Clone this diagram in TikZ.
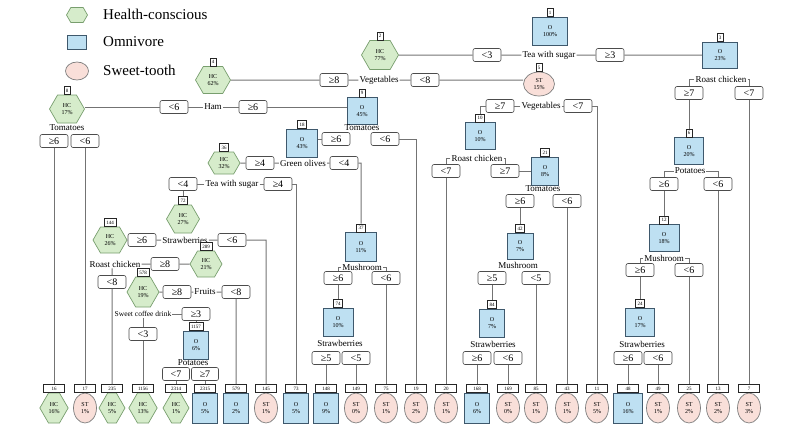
\documentclass[tikz,border=0pt]{standalone}
\usepackage{fontspec}
\setmainfont{Liberation Serif}
\usetikzlibrary{positioning, shapes.geometric, shapes.symbols}

\definecolor{hcfill}{RGB}{214,236,203}
\definecolor{hcline}{RGB}{120,158,110}
\definecolor{omfill}{RGB}{190,224,242}
\definecolor{omline}{RGB}{62,88,108}
\definecolor{stfill}{RGB}{249,223,217}
\definecolor{stline}{RGB}{125,125,125}

\begin{document}
\begin{tikzpicture}[
  x=1pt, y=-1pt,
  node distance=0pt,
  hc/.style={
    shape=signal, signal to=east and west, signal pointer angle=120,
    draw=hcline, fill=hcfill, line width=0.7pt, inner sep=0pt, align=center,
    minimum width=35pt, minimum height=28pt, font=\fontsize{6}{6.5}\selectfont
  },
  om/.style={
    rectangle, draw=omline, fill=omfill, line width=0.8pt, inner sep=0pt,
    align=center, minimum width=30pt, minimum height=27pt,
    font=\fontsize{6}{6.5}\selectfont
  },
  st/.style={
    ellipse, draw=stline, fill=stfill, line width=0.7pt, inner sep=0pt,
    align=center, minimum width=31pt, minimum height=24pt,
    font=\fontsize{6}{6.5}\selectfont
  },
  leaf/.style={minimum width=25pt, minimum height=30pt},
  numbox/.style={
    draw=black!85, fill=white, line width=0.4pt, inner xsep=2pt, inner ysep=0pt,
    minimum height=8pt, font=\fontsize{5}{5}\selectfont
  },
  leafnum/.style={numbox, minimum width=21pt},
  cond/.style={
    draw=black!70, fill=white, rounded corners=2pt, line width=0.6pt,
    minimum width=28pt, minimum height=13pt, inner sep=0pt,
    font=\fontsize{10}{10}\selectfont
  },
  split/.style={font=\fontsize{9}{10}\selectfont, inner sep=1pt},
  keytext/.style={anchor=west, inner sep=0pt, font=\fontsize{15}{16}\selectfont},
  edge/.style={draw=black!55, line width=1pt},
]
\useasboundingbox (0,0) rectangle (800,440);

% Key
\node[hc, minimum width=21pt, minimum height=15pt] (key1) at (77,15) {};
\node[keytext] (keyt1) at (103,14) {Health-conscious};
\node[om, minimum width=19pt, minimum height=14pt] (key2) at (77,42) {};
\node[keytext] (keyt2) at (103,42) {Omnivore};
\node[st, minimum width=23pt, minimum height=18pt] (key3) at (77,71) {};
\node[keytext] (keyt3) at (103,70) {Sweet-tooth};

% Inner nodes with their split variable and the two conditions
\node[om, minimum width=35pt, minimum height=28pt] (n1) at (550,31) {O\\100\%};
\node[numbox, above=of n1] (k1) {1};
\node[split] (t1) at (549,55) {Tea with sugar};
\node[cond] (c1l) at (487,55) {<3};
\node[cond] (c1r) at (610,55) {≥3};

\node[hc, minimum width=37pt, minimum height=29pt] (n2) at (380,55) {HC\\77\%};
\node[numbox, above=of n2] (k2) {2};
\node[split] (t2) at (379,80) {Vegetables};
\node[cond] (c2l) at (334,80) {≥8};
\node[cond] (c2r) at (425,80) {<8};

\node[om, minimum width=35pt, minimum height=26pt] (n3) at (720,55) {O\\23\%};
\node[numbox, above=of n3] (k3) {3};
\node[split] (t3) at (721,79) {Roast chicken};
\node[cond] (c3l) at (689,93) {≥7};
\node[cond] (c3r) at (749,93) {<7};

\node[hc, minimum height=27pt] (n4) at (213,80) {HC\\62\%};
\node[numbox, above=of n4] (k4) {4};
\node[split] (t4) at (213,107) {Ham};
\node[cond] (c4l) at (174,107) {<6};
\node[cond] (c4r) at (253,107) {≥6};

\node[st] (n5) at (539,84) {ST\\15\%};
\node[numbox, above=of n5] (k5) {5};
\node[split] (t5) at (541,106) {Vegetables};
\node[cond] (c5l) at (500,106) {≥7};
\node[cond] (c5r) at (578,106) {<7};

\node[om, minimum width=29pt] (n6) at (689,151) {O\\20\%};
\node[numbox, above=of n6] (k6) {6};
\node[split] (t6) at (690,171) {Potatoes};
\node[cond] (c6l) at (664,184) {≥6};
\node[cond] (c6r) at (718,184) {<6};

\node[hc] (n8) at (67,109) {HC\\17\%};
\node[numbox, above=of n8] (k8) {8};
\node[split] (t8) at (67,128) {Tomatoes};
\node[cond] (c8l) at (54,141) {≥6};
\node[cond] (c8r) at (85,141) {<6};

\node[om] (n9) at (362,111) {O\\45\%};
\node[numbox, above=of n9] (k9) {9};
\node[split, inner sep=0pt] (t9) at (362,128) {Tomatoes};
\node[cond] (c9l) at (336,139) {≥6};
\node[cond] (c9r) at (385,139) {<6};

\node[om] (n10) at (480,136) {O\\10\%};
\node[numbox, above=of n10] (k10) {10};
\node[split] (t10) at (477,158) {Roast chicken};
\node[cond] (c10l) at (446,171) {<7};
\node[cond] (c10r) at (505,171) {≥7};

\node[om, minimum width=30pt] (n12) at (664,238) {O\\18\%};
\node[numbox, above=of n12] (k12) {12};
\node[split] (t12) at (664,258) {Mushroom};
\node[cond] (c12l) at (640,270) {≥6};
\node[cond] (c12r) at (689,270) {<6};

\node[om, minimum width=31pt, minimum height=28pt] (n18) at (302,143) {O\\43\%};
\node[numbox, above=of n18] (k18) {18};
\node[split] (t18) at (303,163) {Green olives};
\node[cond] (c18l) at (260,163) {≥4};
\node[cond] (c18r) at (344,163) {<4};

\node[om, minimum width=27pt, minimum height=28pt] (n21) at (545,171) {O\\8\%};
\node[numbox, above=of n21] (k21) {21};
\node[split, inner sep=0pt] (t21) at (543,189) {Tomatoes};
\node[cond] (c21l) at (520,201) {≥6};
\node[cond] (c21r) at (567,201) {<6};

\node[om, minimum width=29pt, minimum height=28pt] (n24) at (640,322) {O\\17\%};
\node[numbox, above=of n24] (k24) {24};
\node[split] (t24) at (642,344) {Strawberries};
\node[cond] (c24l) at (628,358) {≥6};
\node[cond] (c24r) at (658,358) {<6};

\node[hc, minimum width=32pt, minimum height=22pt] (n36) at (224,163) {HC\\32\%};
\node[numbox, above=of n36] (k36) {36};
\node[split] (t36) at (232,184) {Tea with sugar};
\node[cond] (c36l) at (183,184) {<4};
\node[cond] (c36r) at (278,184) {≥4};

\node[om, minimum width=31pt, minimum height=29pt] (n37) at (361,247) {O\\11\%};
\node[numbox, above=of n37] (k37) {37};
\node[split] (t37) at (362,267) {Mushroom};
\node[cond] (c37l) at (338,278) {≥6};
\node[cond] (c37r) at (386,278) {<6};

\node[om, minimum width=26pt, minimum height=26pt] (n42) at (520,246) {O\\7\%};
\node[numbox, above=of n42] (k42) {42};
\node[split] (t42) at (518,265) {Mushroom};
\node[cond] (c42l) at (492,278) {≥5};
\node[cond] (c42r) at (536,278) {<5};

\node[hc, minimum width=33pt] (n72) at (183,219) {HC\\27\%};
\node[numbox, above=of n72] (k72) {72};
\node[split] (t72) at (185,240) {Strawberries};
\node[cond] (c72l) at (142,240) {≥6};
\node[cond] (c72r) at (232,240) {<6};

\node[om, minimum height=28pt] (n74) at (338,322) {O\\10\%};
\node[numbox, above=of n74] (k74) {74};
\node[split] (t74) at (340,343) {Strawberries};
\node[cond] (c74l) at (326,358) {≥5};
\node[cond] (c74r) at (356,358) {<5};

\node[om, minimum width=25pt, minimum height=28pt] (n84) at (492,323) {O\\7\%};
\node[numbox, above=of n84] (k84) {84};
\node[split] (t84) at (493,344) {Strawberries};
\node[cond] (c84l) at (477,358) {≥6};
\node[cond] (c84r) at (508,358) {<6};

\node[hc, minimum width=34pt, minimum height=26pt] (n144) at (110,240) {HC\\26\%};
\node[numbox, above=of n144] (k144) {144};
\node[split] (t144) at (115,264) {Roast chicken};
\node[cond] (c144l) at (112,282) {<8};
\node[cond] (c144r) at (165,264) {≥8};

\node[hc, minimum width=32pt, minimum height=26pt] (n289) at (206,264) {HC\\21\%};
\node[numbox, above=of n289] (k289) {289};
\node[split] (t289) at (205,292) {Fruits};
\node[cond] (c289l) at (177,292) {≥8};
\node[cond] (c289r) at (236,292) {<8};

\node[hc, minimum width=32pt, minimum height=30pt] (n578) at (143,292) {HC\\19\%};
\node[numbox, above=of n578] (k578) {578};
\node[split, font=\fontsize{7.5}{8}\selectfont] (t578) at (143,314) {Sweet coffee drink};
\node[cond] (c578l) at (143,334) {<3};
\node[cond] (c578r) at (196,314) {≥3};

\node[om, minimum width=25pt, minimum height=28pt] (n1157) at (196,345) {O\\6\%};
\node[numbox, above=of n1157] (k1157) {1157};
\node[split, inner sep=0pt] (t1157) at (193,363) {Potatoes};
\node[cond, minimum width=27pt] (c1157l) at (176,374) {<7};
\node[cond, minimum width=27pt] (c1157r) at (205,374) {≥7};

% Leaves
\node[hc, leaf, minimum width=26pt] (l16) at (54,408) {HC\\16\%};
\node[leafnum, above=of l16] (k16) {16};
\node[st, leaf, minimum width=23pt] (l17) at (85,408) {ST\\1\%};
\node[leafnum, above=of l17] (k17) {17};
\node[hc, leaf, minimum width=26pt] (l235) at (112,408) {HC\\5\%};
\node[leafnum, above=of l235] (k235) {235};
\node[hc, leaf, minimum width=26pt] (l1156) at (143,408) {HC\\13\%};
\node[leafnum, above=of l1156] (k1156) {1156};
\node[hc, leaf, minimum width=26pt] (l2314) at (176,408) {HC\\1\%};
\node[leafnum, above=of l2314] (k2314) {2314};
\node[om, leaf] (l2315) at (205,408) {O\\5\%};
\node[leafnum, above=of l2315] (k2315) {2315};
\node[om, leaf] (l579) at (236,408) {O\\2\%};
\node[leafnum, above=of l579] (k579) {579};
\node[st, leaf, minimum width=23pt] (l145) at (266,408) {ST\\1\%};
\node[leafnum, above=of l145] (k145) {145};
\node[om, leaf] (l73) at (296,408) {O\\5\%};
\node[leafnum, above=of l73] (k73) {73};
\node[om, leaf] (l148) at (326,408) {O\\9\%};
\node[leafnum, above=of l148] (k148) {148};
\node[st, leaf, minimum width=23pt] (l149) at (356,408) {ST\\0\%};
\node[leafnum, above=of l149] (k149) {149};
\node[st, leaf, minimum width=23pt] (l75) at (386,408) {ST\\1\%};
\node[leafnum, above=of l75] (k75) {75};
\node[st, leaf, minimum width=23pt] (l19) at (416,408) {ST\\2\%};
\node[leafnum, above=of l19] (k19) {19};
\node[st, leaf, minimum width=23pt] (l20) at (446,408) {ST\\1\%};
\node[leafnum, above=of l20] (k20) {20};
\node[om, leaf] (l168) at (477,408) {O\\6\%};
\node[leafnum, above=of l168] (k168) {168};
\node[st, leaf, minimum width=23pt] (l169) at (508,408) {ST\\0\%};
\node[leafnum, above=of l169] (k169) {169};
\node[st, leaf, minimum width=23pt] (l85) at (536,408) {ST\\1\%};
\node[leafnum, above=of l85] (k85) {85};
\node[st, leaf, minimum width=23pt] (l43) at (567,408) {ST\\1\%};
\node[leafnum, above=of l43] (k43) {43};
\node[st, leaf, minimum width=23pt] (l11) at (597,408) {ST\\5\%};
\node[leafnum, above=of l11] (k11) {11};
\node[om, leaf, minimum width=29pt] (l48) at (628,408) {O\\16\%};
\node[leafnum, above=of l48] (k48) {48};
\node[st, leaf, minimum width=23pt] (l49) at (658,408) {ST\\1\%};
\node[leafnum, above=of l49] (k49) {49};
\node[st, leaf, minimum width=23pt] (l25) at (689,408) {ST\\2\%};
\node[leafnum, above=of l25] (k25) {25};
\node[st, leaf, minimum width=23pt] (l13) at (718,408) {ST\\2\%};
\node[leafnum, above=of l13] (k13) {13};
\node[st, leaf, minimum width=23pt] (l7) at (749,408) {ST\\3\%};
\node[leafnum, above=of l7] (k7) {7};

% Connectors
\draw[edge] (t1) -- (c1l) (c1l) -- (n2) (t1) -- (c1r) (c1r) -- (n3);
\draw[edge] (t2) -- (c2l) (c2l) -- (n4) (t2) -- (c2r) (c2r.east) -- (c2r.east -| n5.west);
\draw[edge] (t3.west) -| (c3l.north) (t3.east) -| (c3r.north) (c3l) -- (k6) (c3r) -- (k7);
\draw[edge] (t4) -- (c4l) (c4l.west) -- (c4l.west -| n8.east) (t4) -- (c4r) (c4r.east) -- (c4r.east -| n9.west);
\draw[edge] (t5) -- (c5l) (c5l.west) -| (k10.north) (t5) -- (c5r) (c5r.east) -| (k11.north);
\draw[edge] (t6.west) -| (c6l.north) (t6.east) -| (c6r.north) (c6l) -- (k12) (c6r) -- (k13);
\draw[edge] (c8l) -- (k16) (c8r) -- (k17);
\draw[edge] (c9l.west) -- (c9l.west -| n18.east) (c9r.east) -| (k19.north);
\draw[edge] (t10.west) -| (c10l.north) (t10.east) -| (c10r.north) (c10l) -- (k20) (c10r) -- (n21);
\draw[edge] (t12.west) -| (c12l.north) (t12.east) -| (c12r.north) (c12l) -- (k24) (c12r) -- (k25);
\draw[edge] (t18) -- (c18l) (c18l) -- (n36) (t18) -- (c18r) (c18r.east) -| (k37.north);
\draw[edge] (c21l) -- (k42) (c21r) -- (k43);
\draw[edge] (c24l) -- (k48) (c24r) -- (k49);
\draw[edge] (t36) -- (c36l) (c36l) -- (k72) (t36) -- (c36r) (c36r.east) -| (k73.north);
\draw[edge] (t37.west) -| (c37l.north) (t37.east) -| (c37r.north) (c37l) -- (k74) (c37r) -- (k75);
\draw[edge] (c42l) -- (k84) (c42r) -- (k85);
\draw[edge] (t72) -- (c72l) (c72l) -- (n144) (t72) -- (c72r) (c72r.east) -| (k145.north);
\draw[edge] (c74l) -- (k148) (c74r) -- (k149);
\draw[edge] (c84l) -- (k168) (c84r) -- (k169);
\draw[edge] (c144l.north) -- (c144l.north |- t144.south) (t144) -- (c144r) (c144r) -- (n289) (c144l) -- (k235);
\draw[edge] (t289) -- (c289l) (c289l) -- (n578) (t289) -- (c289r) (c289r) -- (k579);
\draw[edge] (t578) -- (c578l) (t578) -- (c578r) (c578r) -- (k1157) (c578l) -- (k1156);
\draw[edge] (c1157l) -- (k2314) (c1157r) -- (k2315);

\end{tikzpicture}
\end{document}
